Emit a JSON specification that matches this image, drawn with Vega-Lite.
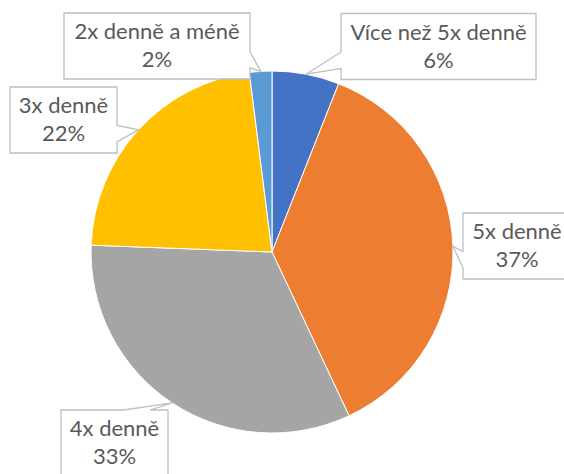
{
  "$schema": "https://vega.github.io/schema/vega-lite/v6.json",
  "width": 544,
  "height": 444,
  "autosize": "none",
  "padding": {"left": 0, "top": 30, "right": 20, "bottom": 0},
  "background": "white",
  "config": {"view": {"stroke": null}},
  "data": {
    "values": [
      {"kategorie": "Více než 5x denně", "podil": 0.06},
      {"kategorie": "5x denně", "podil": 0.37},
      {"kategorie": "4x denně", "podil": 0.326},
      {"kategorie": "3x denně", "podil": 0.224},
      {"kategorie": "2x denně a méně", "podil": 0.02}
    ]
  },
  "transform": [
    {"window": [{"op": "row_number", "as": "poradi"}, {"op": "sum", "field": "podil", "as": "cum"}], "frame": [null, 0]},
    {"calculate": "2*PI*(datum.cum - datum.podil/2)", "as": "mid"},
    {"calculate": "width/2 + 181*sin(datum.mid)", "as": "tx"},
    {"calculate": "height/2 - 181*cos(datum.mid)", "as": "ty"},
    {"calculate": "width/2 + [166.5, 245, -157.5, -208.5, -115][datum.poradi-1]", "as": "bx"},
    {"calculate": "height/2 + [-205.5, -6, 191, -132, -206][datum.poradi-1]", "as": "by"},
    {"calculate": "[195, 108, 107, 107, 186][datum.poradi-1]/2", "as": "hw"},
    {"calculate": "33", "as": "hh"},
    {"calculate": "datum.tx - datum.bx", "as": "px"},
    {"calculate": "datum.ty - datum.by", "as": "py"},
    {"calculate": "abs(datum.px)/datum.hw > abs(datum.py)/datum.hh ? (datum.px < 0 ? 'L' : 'R') : (datum.py < 0 ? 'T' : 'B')", "as": "side"},
    {"calculate": "(datum.side == 'L' || datum.side == 'R') ? (datum.py > 0 ? 7 : 2) : (datum.px > 0 ? 7 : 2)", "as": "g"},
    {"calculate": "-datum.hw + 2*datum.hw*datum.g/12", "as": "a1"},
    {"calculate": "-datum.hw + 2*datum.hw*(datum.g+3)/12", "as": "a2"},
    {"calculate": "-datum.hh + 2*datum.hh*datum.g/12", "as": "b1"},
    {"calculate": "-datum.hh + 2*datum.hh*(datum.g+3)/12", "as": "b2"},
    {"calculate": "(-datum.hw) + ',' + (-datum.hh)", "as": "ctl"},
    {"calculate": "datum.hw + ',' + (-datum.hh)", "as": "ctr"},
    {"calculate": "datum.hw + ',' + datum.hh", "as": "cbr"},
    {"calculate": "(-datum.hw) + ',' + datum.hh", "as": "cbl"},
    {"calculate": "datum.px + ',' + datum.py", "as": "cp"},
    {"calculate": "datum.side == 'T' ? 'M' + datum.ctl + 'L' + datum.a1 + ',' + (-datum.hh) + 'L' + datum.cp + 'L' + datum.a2 + ',' + (-datum.hh) + 'L' + datum.ctr + 'L' + datum.cbr + 'L' + datum.cbl + 'Z' : datum.side == 'R' ? 'M' + datum.ctl + 'L' + datum.ctr + 'L' + datum.hw + ',' + datum.b1 + 'L' + datum.cp + 'L' + datum.hw + ',' + datum.b2 + 'L' + datum.cbr + 'L' + datum.cbl + 'Z' : datum.side == 'B' ? 'M' + datum.ctl + 'L' + datum.ctr + 'L' + datum.cbr + 'L' + datum.a2 + ',' + datum.hh + 'L' + datum.cp + 'L' + datum.a1 + ',' + datum.hh + 'L' + datum.cbl + 'Z' : 'M' + datum.ctl + 'L' + datum.ctr + 'L' + datum.cbr + 'L' + datum.cbl + 'L' + (-datum.hw) + ',' + datum.b2 + 'L' + datum.cp + 'L' + (-datum.hw) + ',' + datum.b1 + 'Z'", "as": "cesta"},
    {"calculate": "datum.kategorie + '\\n' + format(datum.podil, '.0%')", "as": "popisek"}
  ],
  "layer": [
    {
      "mark": {"type": "arc", "radius": 181, "stroke": "white", "strokeWidth": 1},
      "encoding": {
        "theta": {"field": "podil", "type": "quantitative", "stack": true},
        "order": {"field": "poradi", "type": "quantitative"},
        "color": {
          "field": "kategorie",
          "type": "nominal",
          "scale": {
            "domain": ["Více než 5x denně", "5x denně", "4x denně", "3x denně", "2x denně a méně"],
            "range": ["#4472C4", "#ED7D31", "#A5A5A5", "#FFC000", "#5B9BD5"]
          },
          "legend": null
        }
      }
    },
    {
      "mark": {"type": "point", "filled": true, "fill": "white", "stroke": "#BFBFBF", "strokeWidth": 1.3, "opacity": 1, "size": 4, "strokeJoin": "miter"},
      "encoding": {
        "x": {"field": "bx", "type": "quantitative", "scale": null},
        "y": {"field": "by", "type": "quantitative", "scale": null},
        "shape": {"field": "cesta", "type": "nominal", "scale": null}
      }
    },
    {
      "mark": {"type": "text", "font": "Lato", "fontSize": 22, "color": "#595959", "lineBreak": "\n", "lineHeight": 28, "align": "center", "baseline": "middle", "dy": -14},
      "encoding": {
        "x": {"field": "bx", "type": "quantitative", "scale": null},
        "y": {"field": "by", "type": "quantitative", "scale": null},
        "text": {"field": "popisek", "type": "nominal"}
      }
    }
  ]
}
